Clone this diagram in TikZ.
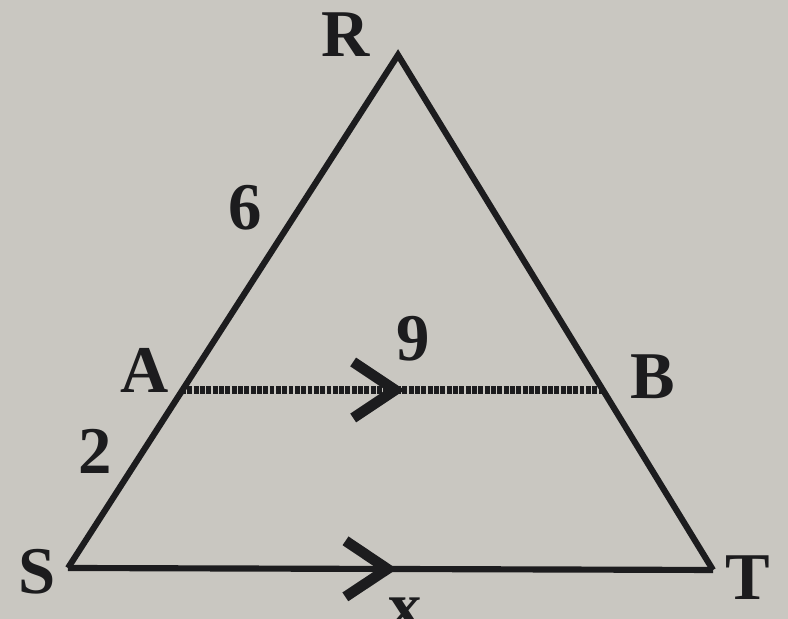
\documentclass[tikz,border=0pt]{standalone}
\usepackage{fontspec}
\setmainfont{Liberation Serif}
\usepackage{xcolor}
\usetikzlibrary{arrows.meta, decorations.markings}

\definecolor{paper}{RGB}{201,199,193}
\definecolor{ink}{RGB}{28,28,30}

\begin{document}
\begin{tikzpicture}[
  x=1cm, y=1cm,
  side/.style={draw=ink, line width=1.75pt, line join=miter},
  lbl/.style={text=ink, font=\fontsize{19}{22}\selectfont\bfseries, inner sep=0pt},
  midarr/.style={postaction={decorate}, decoration={markings,
      mark=at position #1 with {\arrow[ink]{Straight Barb[length=4.2mm, width=5.6mm, line width=3pt]}}}},
]

% Paper
\fill[paper] (0,0) rectangle (7.88,6.19);
\useasboundingbox (0,0) rectangle (7.88,6.19);

% Vertices
\coordinate (R) at (3.98,5.64);
\coordinate (S) at (0.68,0.51);
\coordinate (T) at (7.13,0.49);
\coordinate (A) at (1.81,2.29);
\coordinate (B) at (6.03,2.29);

% Triangle
\draw[side] (S) -- (R) -- (T);
\draw[side, midarr=0.51] (S) -- (T);

% Parallel segment
\draw[ink, line width=2.2pt, dash pattern=on 1.4pt off 0.4pt, midarr=0.53] (A) -- (B);

% Vertex labels
\node[lbl] (lR) at (3.46,5.84) {R};
\node[lbl] (lA) at (1.45,2.49) {A};
\node[lbl] (lB) at (6.53,2.42) {B};
\node[lbl] (lS) at (0.37,0.47) {S};
\node[lbl] (lT) at (7.48,0.41) {T};

% Lengths
\node[lbl] (l6) at (2.45,4.11) {6};
\node[lbl] (l9) at (4.13,2.80) {9};
\node[lbl] (l2) at (0.95,1.68) {2};
\node[lbl] (lx) at (4.05,0.06) {x};

\end{tikzpicture}
\end{document}
